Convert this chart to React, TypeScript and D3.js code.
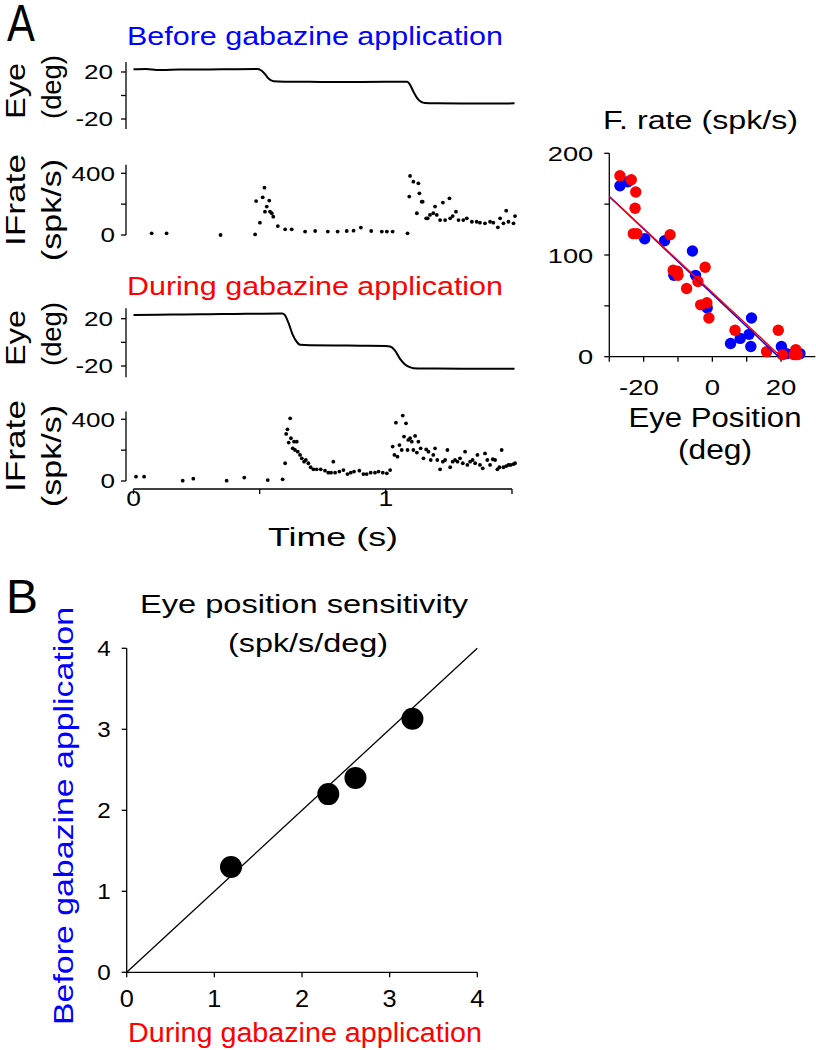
import React from "react";
import * as d3 from "d3";

const FONT = "'Liberation Sans', Arial, Helvetica, sans-serif";
const BLUE = "#0000ff";
const RED = "#ff0000";

// ---------- Panel A: eye traces ----------
const eyeBeforeT = [0, 0.05, 0.1, 0.15, 0.2, 0.3, 0.4, 0.49, 0.505, 0.52, 0.535, 0.555, 0.6, 0.7, 0.8, 0.9, 1.0, 1.085, 1.095, 1.11, 1.125, 1.14, 1.155, 1.2, 1.3, 1.4, 1.51];
const eyeBeforeDeg = [22.3, 22.5, 21.6, 22.0, 22.1, 22.2, 22.4, 22.5, 21.5, 18.5, 14.5, 12.2, 11.8, 11.6, 11.5, 11.5, 11.6, 11.8, 9.5, 3, -2.5, -5.5, -6.4, -6.7, -6.9, -6.8, -6.7];

const eyeDuringT = [0, 0.1, 0.2, 0.3, 0.4, 0.5, 0.59, 0.6, 0.615, 0.63, 0.645, 0.66, 0.7, 0.8, 0.9, 1.0, 1.017, 1.035, 1.055, 1.075, 1.095, 1.11, 1.2, 1.3, 1.4, 1.51];
const eyeDuringDeg = [23.1, 23.3, 23.6, 23.8, 24.0, 24.2, 24.3, 23.0, 16.0, 7.0, 1.0, -2.0, -2.4, -2.6, -2.8, -3.0, -3.5, -6.5, -13.5, -18.5, -21.0, -21.8, -22.2, -22.3, -22.3, -22.3];

// ---------- Panel A: instantaneous firing rate ----------
const ifBeforeT = [0.072, 0.131, 0.345, 0.482, 0.486, 0.501, 0.512, 0.519, 0.521, 0.528, 0.538, 0.541, 0.548, 0.554, 0.572, 0.601, 0.627, 0.68, 0.72, 0.77, 0.809, 0.845, 0.872, 0.901, 0.942, 0.984, 1.004, 1.027, 1.086, 1.093, 1.096, 1.109, 1.123, 1.129, 1.133, 1.142, 1.146, 1.16, 1.166, 1.175, 1.188, 1.195, 1.202, 1.215, 1.226, 1.235, 1.252, 1.255, 1.265, 1.278, 1.288, 1.307, 1.321, 1.341, 1.36, 1.373, 1.393, 1.413, 1.426, 1.444, 1.453, 1.466, 1.477, 1.486, 1.506, 1.512];
const ifBeforeRate = [11, 11, 0, 4, 220, 80, 244, 307, 151, 184, 223, 151, 141, 119, 58, 37, 37, 22, 26, 22, 22, 26, 28, 48, 26, 22, 22, 22, 11, 249, 383, 346, 141, 335, 270, 216, 216, 108, 108, 130, 141, 184, 130, 97, 210, 97, 238, 108, 123, 151, 97, 97, 108, 86, 86, 80, 76, 86, 80, 50, 108, 76, 158, 86, 76, 123];

const ifDuringT = [0.01, 0.042, 0.195, 0.237, 0.369, 0.439, 0.532, 0.591, 0.601, 0.605, 0.61, 0.621, 0.615, 0.624, 0.631, 0.636, 0.64, 0.647, 0.651, 0.66, 0.667, 0.676, 0.683, 0.693, 0.702, 0.713, 0.726, 0.742, 0.759, 0.772, 0.783, 0.792, 0.799, 0.816, 0.832, 0.848, 0.861, 0.874, 0.895, 0.911, 0.924, 0.94, 0.957, 0.971, 0.988, 1.004, 1.017, 1.027, 1.034, 1.04, 1.046, 1.054, 1.063, 1.067, 1.072, 1.08, 1.086, 1.089, 1.096, 1.103, 1.109, 1.116, 1.123, 1.129, 1.138, 1.149, 1.16, 1.169, 1.178, 1.188, 1.195, 1.204, 1.215, 1.226, 1.235, 1.244, 1.255, 1.265, 1.274, 1.284, 1.294, 1.305, 1.314, 1.323, 1.334, 1.344, 1.354, 1.363, 1.373, 1.384, 1.393, 1.402, 1.413, 1.424, 1.433, 1.442, 1.45, 1.459, 1.466, 1.477, 1.486, 1.495, 1.506, 1.512];
const ifDuringRate = [28, 28, 2, 15, 2, 22, 6, 11, 115, 305, 335, 406, 249, 277, 212, 255, 201, 255, 190, 169, 147, 125, 136, 115, 89, 76, 76, 76, 67, 54, 54, 125, 54, 61, 71, 45, 54, 61, 67, 45, 45, 54, 54, 61, 54, 50, 71, 223, 169, 378, 158, 233, 201, 424, 288, 374, 201, 266, 277, 255, 201, 292, 184, 255, 212, 147, 205, 190, 136, 169, 212, 136, 76, 125, 136, 201, 89, 125, 136, 125, 147, 115, 190, 104, 125, 136, 115, 169, 104, 82, 179, 136, 104, 141, 136, 76, 89, 201, 89, 97, 104, 104, 110, 115];

const timeTicks = [0, 0.5, 1, 1.5];
const timeTickLabels = ["0", "", "1", ""];
const eyeTicks = [-20, 0, 20];
const eyeTickLabels = ["-20", "", "20"];
const ifTicks = [0, 200, 400];
const ifTickLabels = ["0", "", "400"];

// ---------- Panel A right: firing rate vs eye position ----------
const blueDeg = [-26.9, -24.6, -19.7, -13.9, -11.2, -5.8, -4.9, -1.5, 5.3, 8.1, 10.7, 11.4, 11.2, 20.1, 21.6, 23.8, 25.5];
const blueRate = [168, 172, 116, 114, 80, 104, 80, 48, 13, 18, 22, 38, 10, 10, 3, 3, 3];
const redDeg = [-26.9, -23.6, -22.3, -22.5, -23.0, -22.0, -12.3, -11.4, -10.2, -10.0, -7.5, -4.2, -2.1, -3.4, -1.6, -1.0, 6.6, 15.8, 19.2, 20.4, 24.3, 24.7, 23.8];
const redRate = [178, 174, 162, 146, 121, 121, 120, 85, 84, 80, 67, 74, 88, 51, 53, 38, 26, 5, 26, 2, 7, 2, 2];
const blueFit = { intercept: 61.6, slope: -3.2 };
const redFit = { intercept: 63.0, slope: -3.15 };
const fxTicks = [-30, -20, -10, 0, 10, 20];
const fxTickLabels = ["", "-20", "", "0", "", "20"];
const fyTicks = [0, 50, 100, 150, 200];
const fyTickLabels = ["0", "", "100", "", "200"];

// ---------- Panel B ----------
const duringSens = [1.19, 2.3, 2.61, 3.26];
const beforeSens = [1.3, 2.2, 2.4, 3.13];
const bTicks = [0, 1, 2, 3, 4];
const bTickLabels = ["0", "1", "2", "3", "4"];

// ---------- scales ----------
const tx = d3.scaleLinear().domain([0, 1.5]).range([133.5, 512]);
const yEye1 = d3.scaleLinear().domain([-20, 20]).range([119, 72]);
const yIf1 = d3.scaleLinear().domain([0, 400]).range([235, 173.3]);
const yEye2 = d3.scaleLinear().domain([-20, 20]).range([366, 318.7]);
const yIf2 = d3.scaleLinear().domain([0, 400]).range([481, 419.3]);
const fx = d3.scaleLinear().domain([-30, 30]).range([609.3, 815.4]);
const fy = d3.scaleLinear().domain([0, 200]).range([356.7, 153.3]);
const bx = d3.scaleLinear().domain([0, 4]).range([126.7, 477.3]);
const by = d3.scaleLinear().domain([0, 4]).range([972.3, 648.3]);

const AX = "#000";
const AXW = 1.3;
const TICK = 5;

type Lin = d3.ScaleLinear<number, number>;

function VAxis({ scale, x, ext, ticks, labels, size, gap, sx }: { scale: Lin; x: number; ext: [number, number]; ticks: number[]; labels: string[]; size: number; gap: number; sx: number }) {
  return (
    <g>
      <line x1={x} x2={x} y1={scale(ext[0])} y2={scale(ext[1])} stroke={AX} strokeWidth={AXW} />
      {ticks.map((t, i) => (
        <g key={i}>
          <line x1={x - TICK} x2={x} y1={scale(t)} y2={scale(t)} stroke={AX} strokeWidth={AXW} />
          {labels[i] ? (
            <text transform={`translate(${x - TICK - gap},${scale(t)}) scale(${sx},1)`} dy="0.36em" textAnchor="end" fontSize={size} fontFamily={FONT}>
              {labels[i]}
            </text>
          ) : null}
        </g>
      ))}
    </g>
  );
}

function HAxis({ scale, y, ext, ticks, labels, size, base, sx }: { scale: Lin; y: number; ext: [number, number]; ticks: number[]; labels: string[]; size: number; base: number; sx: number }) {
  return (
    <g>
      <line x1={scale(ext[0])} x2={scale(ext[1])} y1={y} y2={y} stroke={AX} strokeWidth={AXW} />
      {ticks.map((t, i) => (
        <g key={i}>
          <line x1={scale(t)} x2={scale(t)} y1={y} y2={y + TICK} stroke={AX} strokeWidth={AXW} />
          {labels[i] ? (
            <text transform={`translate(${scale(t)},${base}) scale(${sx},1)`} dx={labels[i].startsWith("-") ? "-0.17em" : 0} textAnchor="middle" fontSize={size} fontFamily={FONT}>
              {labels[i]}
            </text>
          ) : null}
        </g>
      ))}
    </g>
  );
}

function Label({ x, y, size, len, fill = "#000", anchor = "start", rot = false, children }: { x: number; y: number; size: number; len: number; fill?: string; anchor?: string; rot?: boolean; children: React.ReactNode }) {
  return (
    <text
      transform={rot ? `translate(${x},${y}) rotate(-90)` : `translate(${x},${y})`}
      fontSize={size}
      fontFamily={FONT}
      fill={fill}
      textAnchor={anchor}
      textLength={len}
      lengthAdjust="spacingAndGlyphs"
    >
      {children}
    </text>
  );
}

function EyeTrace({ t, d, y }: { t: number[]; d: number[]; y: Lin }) {
  const line = d3
    .line<number>()
    .x((_, i) => tx(t[i]))
    .y((v) => y(v))
    .curve(d3.curveMonotoneX);
  return <path d={line(d) || ""} fill="none" stroke="#000" strokeWidth={2} strokeLinejoin="round" />;
}

function Dots({ t, r, y }: { t: number[]; r: number[]; y: Lin }) {
  return (
    <g>
      {t.map((v, i) => (
        <circle key={i} cx={tx(v)} cy={y(r[i])} r={1.9} fill="#000" />
      ))}
    </g>
  );
}

function FitLine({ fit, color }: { fit: { intercept: number; slope: number }; color: string }) {
  const x0 = -30;
  const x1 = -fit.intercept / fit.slope;
  return <line x1={fx(x0)} y1={fy(fit.intercept + fit.slope * x0)} x2={fx(x1)} y2={fy(0)} stroke={color} strokeWidth={1.5} />;
}

export default function App() {
  const tsx = 1.27;
  return (
    <svg width={816} height={1050} viewBox="0 0 816 1050" style={{ position: "absolute", left: 0, top: 0, background: "#fff" }}>
      <rect x={0} y={0} width={816} height={1050} fill="#fff" />
      {/* Panel letters */}
      <text transform="translate(7,41) scale(0.82,1)" fontSize={51} fontFamily={FONT}>A</text>
      <text transform="translate(6,613) scale(1.0,1)" fontSize={48} fontFamily={FONT}>B</text>

      {/* Titles */}
      <Label x={127} y={45} size={25.5} len={376} fill={BLUE}>Before gabazine application</Label>
      <Label x={127} y={295} size={25.5} len={376} fill={RED}>During gabazine application</Label>

      {/* Eye panel 1 */}
      <Label x={25} y={91} size={28} len={56} anchor="middle" rot>Eye</Label>
      <Label x={61} y={87} size={28} len={64} anchor="middle" rot>(deg)</Label>
      <VAxis scale={yEye1} x={126} ext={[-28.5, 28.5]} ticks={eyeTicks} labels={eyeTickLabels} size={20.5} gap={8} sx={tsx} />
      <EyeTrace t={eyeBeforeT} d={eyeBeforeDeg} y={yEye1} />

      {/* IFrate panel 1 */}
      <Label x={25} y={200} size={28} len={92} anchor="middle" rot>IFrate</Label>
      <Label x={61} y={210} size={28} len={102} anchor="middle" rot>(spk/s)</Label>
      <VAxis scale={yIf1} x={126} ext={[0, 455]} ticks={ifTicks} labels={ifTickLabels} size={20.5} gap={6} sx={tsx} />
      <Dots t={ifBeforeT} r={ifBeforeRate} y={yIf1} />

      {/* Eye panel 2 */}
      <Label x={25} y={338} size={28} len={56} anchor="middle" rot>Eye</Label>
      <Label x={61} y={334} size={28} len={64} anchor="middle" rot>(deg)</Label>
      <VAxis scale={yEye2} x={126} ext={[-29.5, 28.8]} ticks={eyeTicks} labels={eyeTickLabels} size={20.5} gap={8} sx={tsx} />
      <EyeTrace t={eyeDuringT} d={eyeDuringDeg} y={yEye2} />

      {/* IFrate panel 2 */}
      <Label x={25} y={446} size={28} len={92} anchor="middle" rot>IFrate</Label>
      <Label x={61} y={456} size={28} len={102} anchor="middle" rot>(spk/s)</Label>
      <VAxis scale={yIf2} x={126} ext={[0, 450]} ticks={ifTicks} labels={ifTickLabels} size={20.5} gap={6} sx={tsx} />
      <Dots t={ifDuringT} r={ifDuringRate} y={yIf2} />

      {/* Time axis */}
      <HAxis scale={tx} y={489} ext={[0, 1.5]} ticks={timeTicks} labels={timeTickLabels} size={22} base={506} sx={1.2} />
      <Label x={333} y={546} size={26} len={130} anchor="middle">Time (s)</Label>

      {/* Right scatter */}
      <Label x={603} y={129.3} size={26} len={195}>F. rate (spk/s)</Label>
      <VAxis scale={fy} x={609.3} ext={[0, 200]} ticks={fyTicks} labels={fyTickLabels} size={21} gap={11} sx={1.3} />
      <HAxis scale={fx} y={356.7} ext={[-30, 30]} ticks={fxTicks} labels={fxTickLabels} size={22} base={395} sx={1.25} />
      {blueDeg.map((d, i) => (
        <circle key={"b" + i} cx={fx(d)} cy={fy(blueRate[i])} r={5.7} fill={BLUE} />
      ))}
      {redDeg.map((d, i) => (
        <circle key={"r" + i} cx={fx(d)} cy={fy(redRate[i])} r={5.7} fill={RED} />
      ))}
      <FitLine fit={blueFit} color={BLUE} />
      <FitLine fit={redFit} color={RED} />
      <Label x={715} y={427} size={27} len={173} anchor="middle">Eye Position</Label>
      <Label x={715} y={459} size={27} len={74} anchor="middle">(deg)</Label>

      {/* Panel B */}
      <Label x={304} y={613} size={26.5} len={328} anchor="middle">Eye position sensitivity</Label>
      <Label x={308} y={652} size={26.5} len={160} anchor="middle">(spk/s/deg)</Label>
      <VAxis scale={by} x={126.7} ext={[0, 4]} ticks={bTicks} labels={bTickLabels} size={22} gap={11} sx={1.1} />
      <HAxis scale={bx} y={972.3} ext={[0, 4]} ticks={bTicks} labels={bTickLabels} size={23} base={1007} sx={1.1} />
      <line x1={bx(0)} y1={by(0)} x2={bx(4)} y2={by(4)} stroke="#000" strokeWidth={1.3} />
      {duringSens.map((d, i) => (
        <circle key={"s" + i} cx={bx(d)} cy={by(beforeSens[i])} r={11} fill="#000" />
      ))}
      <Label x={305} y={1042} size={27} len={354} fill={RED} anchor="middle">During gabazine application</Label>
      <Label x={72.5} y={816} size={28} len={418} fill={BLUE} anchor="middle" rot>Before gabazine application</Label>
    </svg>
  );
}
